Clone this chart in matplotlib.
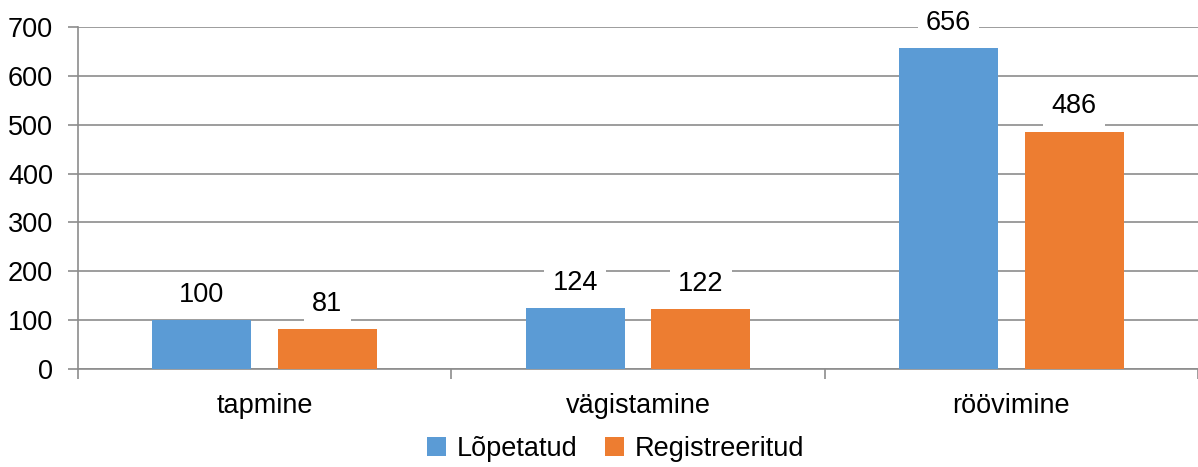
import numpy as np
from matplotlib import pyplot as plt

# data
categories = ["tapmine", "vägistamine", "röövimine"]
lopetatud = [100, 124, 656]
registreeritud = [81, 122, 486]
series_names = ["Lõpetatud", "Registreeritud"]

BLUE = "#5B9BD5"
ORANGE = "#ED7D31"
GRID = "#8C8C8C"
FS = 19.5

plt.rcParams["font.family"] = ["Liberation Sans", "DejaVu Sans"]

fig = plt.figure(figsize=(11.98, 4.67), dpi=100)
ax = fig.add_axes([0.0651, 0.2099, 0.9349, 0.7323])

x = np.arange(len(categories))
w = 0.265
off = 0.168

b1 = ax.bar(x - off, lopetatud, w, color=BLUE, label=series_names[0], zorder=3)
b2 = ax.bar(x + off, registreeritud, w, color=ORANGE, label=series_names[1], zorder=3)

# value labels with white box so the gridlines break behind them
for bars in (b1, b2):
    for rect in bars:
        h = rect.get_height()
        ax.annotate("{}".format(int(h)), (rect.get_x() + rect.get_width() / 2, h),
                    xytext=(0, 9), textcoords="offset points",
                    ha="center", va="bottom", fontsize=FS, zorder=4,
                    bbox=dict(boxstyle="square,pad=0.3", fc="white", ec="none"))

ax.set_xlim(-0.5, len(categories) - 0.5)
ax.set_ylim(0, 700)
ax.set_yticks(range(0, 701, 100))
ax.yaxis.grid(True, color=GRID, linewidth=1.2, zorder=0)

# category boundary ticks, labels in the middle
ax.set_xticks(np.arange(-0.5, len(categories), 1.0))
ax.set_xticklabels([])
ax.set_xticks(x, minor=True)
ax.set_xticklabels(categories, minor=True)
ax.tick_params(axis="x", which="minor", length=0, pad=17, labelsize=FS)
ax.tick_params(axis="x", which="major", length=7, width=1.2, color=GRID, direction="out")
ax.tick_params(axis="y", length=7, width=1.2, color=GRID, labelsize=FS, pad=11)

for s in ["top", "right"]:
    ax.spines[s].set_visible(False)
for s in ["left", "bottom"]:
    ax.spines[s].set_color(GRID)
    ax.spines[s].set_linewidth(1.2)

ax.legend(loc="upper center", bbox_to_anchor=(0.48, -0.195), ncol=2, frameon=False,
          fontsize=FS, handlelength=0.7, handleheight=0.7, handletextpad=0.4,
          columnspacing=1.0, borderpad=0.0, borderaxespad=0.0)

fig.savefig("out.png", dpi=100)
